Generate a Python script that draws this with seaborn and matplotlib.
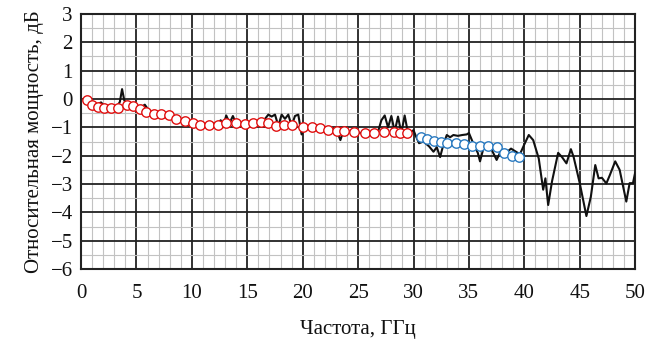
import numpy as np
import pandas as pd
import matplotlib
matplotlib.use("Agg")
import matplotlib.pyplot as plt
import seaborn as sns
from matplotlib.ticker import MultipleLocator

# Measured curve (black)
line_f = [0.3, 0.8, 1.3, 1.8, 2.2, 2.8, 3.2, 3.5, 3.7, 3.9, 4.2, 4.6, 5.0, 5.4, 5.75, 6.2,
          6.8, 7.4, 8.0, 8.6, 9.2, 9.8, 10.3, 10.8, 11.2, 11.8, 12.3, 12.6, 12.8, 13.1,
          13.4, 13.7, 14.0, 14.4, 14.8, 15.2, 15.7, 16.2, 16.6, 16.9, 17.2, 17.5, 17.8,
          18.1, 18.4, 18.7, 19.0, 19.3, 19.6, 19.9, 20.2, 20.6, 21.0, 21.5, 22.0, 22.4,
          22.8, 23.1, 23.4, 23.7, 24.2, 24.7, 25.2, 25.7, 26.2, 26.8, 27.1, 27.4, 27.7,
          28.0, 28.3, 28.6, 28.9, 29.2, 29.5, 29.8, 30.0, 30.2, 30.5, 30.9, 31.4, 31.8,
          32.1, 32.4, 32.7, 33.0, 33.3, 33.6, 34.0, 34.4, 34.8, 35.0, 35.5, 35.8, 36.0,
          36.3, 36.6, 37.0, 37.5, 37.8, 38.2, 38.5, 38.8, 39.2, 39.6, 40.0, 40.4, 40.8,
          41.3, 41.7, 41.9, 42.15, 42.5, 43.05, 43.4, 43.8, 44.2, 44.45, 45.0, 45.6, 46.0,
          46.4, 46.7, 47.0, 47.4, 47.7, 48.2, 48.6, 49.2, 49.5, 49.8, 50.0]
line_db = [-0.02, -0.15, -0.22, -0.12, -0.28, -0.27, -0.30, -0.10, 0.35, -0.05, -0.20, -0.22,
           -0.30, -0.30, -0.20, -0.45, -0.50, -0.55, -0.58, -0.68, -0.75, -0.80, -0.85, -0.80,
           -0.90, -0.85, -0.88, -0.75, -1.00, -0.58, -0.85, -0.60, -0.88, -0.85, -0.92, -0.85,
           -0.90, -0.85, -0.70, -0.55, -0.62, -0.55, -0.95, -0.55, -0.70, -0.55, -0.95, -0.60,
           -0.55, -1.25, -0.95, -1.00, -1.00, -1.05, -1.00, -1.12, -1.05, -1.15, -1.45, -1.10,
           -1.15, -1.15, -1.20, -1.18, -1.20, -1.15, -0.75, -0.58, -1.00, -0.60, -1.15, -0.62,
           -1.20, -0.58, -1.20, -1.15, -1.10, -1.30, -1.56, -1.50, -1.67, -1.86, -1.70, -2.05,
           -1.60, -1.27, -1.35, -1.27, -1.30, -1.27, -1.25, -1.20, -1.67, -1.90, -2.20, -1.75,
           -1.65, -1.75, -2.15, -1.90, -1.80, -1.85, -1.75, -1.85, -1.95, -1.60, -1.27, -1.45,
           -2.10, -3.20, -2.80, -3.74, -2.90, -1.90, -2.05, -2.27, -1.77, -2.05, -2.97, -4.13,
           -3.45, -2.33, -2.80, -2.78, -2.98, -2.70, -2.20, -2.50, -3.62, -2.97, -2.97, -2.60]

# Red markers (0-30 GHz)
red_f = [0.5, 1.0, 1.5, 2.05, 2.7, 3.3, 4.1, 4.7, 5.3, 5.9, 6.6, 7.2, 7.9, 8.6, 9.4, 10.1,
         10.7, 11.5, 12.4, 13.1, 14.0, 14.8, 15.5, 16.2, 16.9, 17.6, 18.3, 19.0, 20.0, 20.8,
         21.6, 22.3, 23.1, 23.7, 24.6, 25.6, 26.4, 27.3, 28.2, 28.8, 29.4]
red_db = [-0.02, -0.21, -0.27, -0.30, -0.30, -0.33, -0.21, -0.24, -0.37, -0.45, -0.54, -0.54,
          -0.57, -0.70, -0.76, -0.83, -0.90, -0.90, -0.90, -0.85, -0.85, -0.88, -0.86, -0.82,
          -0.86, -0.95, -0.92, -0.92, -0.98, -1.00, -1.04, -1.10, -1.12, -1.12, -1.15, -1.19,
          -1.19, -1.15, -1.15, -1.19, -1.21]

# Blue markers (30-40 GHz)
blue_f = [30.66, 31.25, 31.86, 32.46, 33.06, 33.84, 34.57, 35.26, 36.01, 36.76, 37.52, 38.18,
          38.87, 39.56]
blue_db = [-1.33, -1.42, -1.47, -1.51, -1.54, -1.54, -1.59, -1.66, -1.66, -1.66, -1.70, -1.89,
           -2.00, -2.03]

xticks = [0, 5, 10, 15, 20, 25, 30, 35, 40, 45, 50]
yticks = [-6, -5, -4, -3, -2, -1, 0, 1, 2, 3]

sns.set_style("white")
plt.rcParams['font.family'] = ['Liberation Serif', 'DejaVu Serif']

fig = plt.figure(figsize=(6.7, 3.41), dpi=100)
ax = fig.add_axes([0.121, 0.211, 0.827, 0.748])

df_line = pd.DataFrame({"f": line_f, "db": line_db})
df_red = pd.DataFrame({"f": red_f, "db": red_db})
df_blue = pd.DataFrame({"f": blue_f, "db": blue_db})

sns.lineplot(data=df_line, x="f", y="db", ax=ax, color="#111111", lw=1.5, sort=False, zorder=3)
sns.scatterplot(data=df_red, x="f", y="db", ax=ax, s=46, facecolor="white",
                edgecolor="#e01010", linewidth=1.0, zorder=4)
sns.scatterplot(data=df_blue, x="f", y="db", ax=ax, s=46, facecolor="white",
                edgecolor="#2a7ac0", linewidth=1.0, zorder=4)

ax.set_xlim(0, 50)
ax.set_ylim(-6, 3)
ax.set_xticks(xticks)
ax.set_yticks(yticks)
ax.set_yticklabels([("\u2212" + str(abs(v))) if v < 0 else str(v) for v in yticks])
ax.xaxis.set_minor_locator(MultipleLocator(1))
ax.yaxis.set_minor_locator(MultipleLocator(0.5))
ax.grid(which="major", color="#222222", lw=1.3, zorder=1)
ax.grid(which="minor", color="#c2c2c2", lw=0.8, zorder=0)
ax.set_axisbelow(True)
for s in ax.spines.values():
    s.set_color("#222222")
    s.set_linewidth(1.5)
ax.tick_params(which="both", length=0, labelsize=15, colors="#111111")
ax.tick_params(axis="x", pad=11)
ax.tick_params(axis="y", pad=6)
ax.set_xlabel("Частота, ГГц", fontsize=15, labelpad=12, color="#111111")
ax.set_ylabel("Относительная мощность, дБ", fontsize=15, labelpad=5, color="#111111")

fig.savefig("out.png", dpi=100)
